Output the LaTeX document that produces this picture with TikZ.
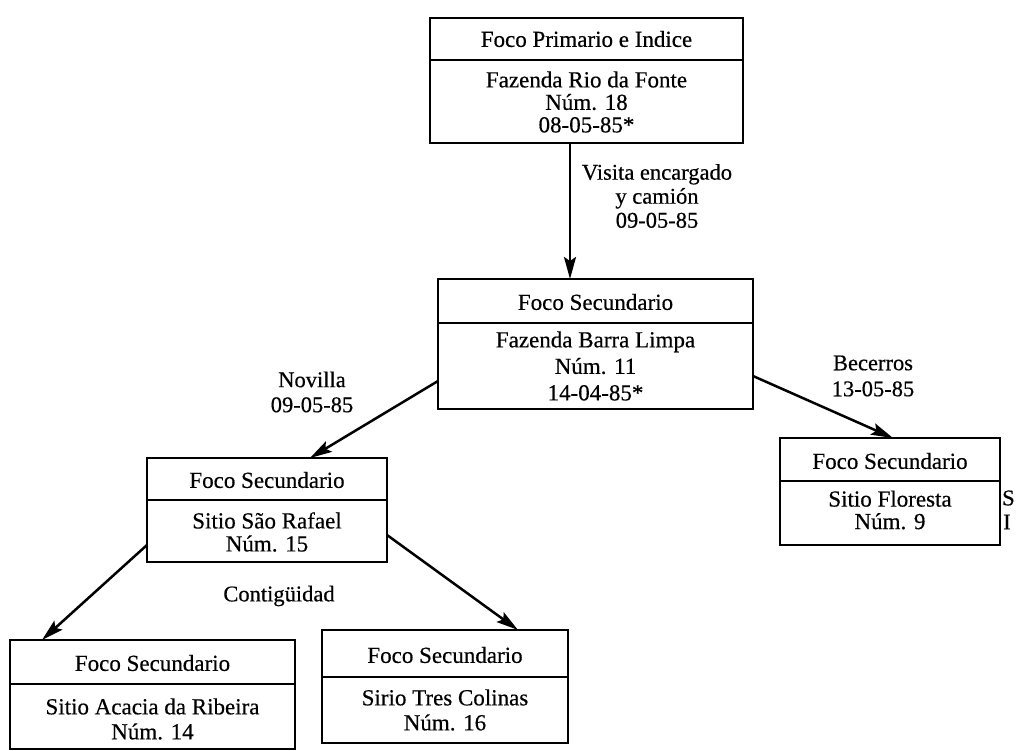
\documentclass[tikz,border=0pt]{standalone}
\usepackage{fontspec}
% Slightly heavier strokes for all lettering
\setmainfont{Liberation Serif}[FakeBold=0.45, BoldFont={Liberation Serif}]
\usetikzlibrary{arrows.meta}

\tikzset{
  box/.style={draw, line width=2.8pt, rectangle, inner sep=0pt, outer sep=0pt},
  rule/.style={line width=2.4pt},
  ttl/.style={inner sep=0pt, font=\fontsize{23}{24}\selectfont\bfseries},
  body/.style={inner sep=0pt, align=center, font=\fontsize{23}{#1}\selectfont\bfseries},
  body/.default=24.5,
  lbl/.style={inner sep=0pt, align=center, font=\fontsize{22.5}{#1}\selectfont\bfseries},
  lbl/.default=24.5,
  link/.style={line width=2.5pt, -{Stealth[length=22pt,width=12pt,inset=4pt]}}
}

\begin{document}
\begin{tikzpicture}[x=1pt,y=-1pt]
\useasboundingbox (0,0) rectangle (1027,751);

% Primary focus
\node[box, minimum width=313pt, minimum height=125pt] (A) at (586.5,80.5) {};
\draw[rule] (A.west |- 0,60) -- (A.east |- 0,60);
\node[ttl] (At) at (586.5,39) {Foco Primario e Indice};
\node[body=22.5] (Ab) at (586.5,102) {Fazenda Rio da Fonte\\Núm. 18\\08-05-85*};

% Secondary focus: Barra Limpa
\node[box, minimum width=315pt, minimum height=130pt] (B) at (595.5,344) {};
\draw[rule] (B.west |- 0,323) -- (B.east |- 0,323);
\node[ttl] (Bt) at (595.5,302) {Foco Secundario};
\node[body=26.5] (Bb) at (595.5,366) {Fazenda Barra Limpa\\Núm. 11\\14-04-85*};

% Secondary focus: São Rafael
\node[box, minimum width=240pt, minimum height=104pt] (C) at (267,510) {};
\draw[rule] (C.west |- 0,500) -- (C.east |- 0,500);
\node[ttl] (Ct) at (267,480) {Foco Secundario};
\node[body=23] (Cb) at (267,532) {Sitio São Rafael\\Núm. 15};

% Secondary focus: Floresta
\node[box, minimum width=220pt, minimum height=107pt] (D) at (890,491.5) {};
\draw[rule] (D.west |- 0,481) -- (D.east |- 0,481);
\node[ttl] (Dt) at (890,461) {Foco Secundario};
\node[body=22.5] (Db) at (890,510) {Sitio Floresta\\Núm. 9};

% Secondary focus: Acacia da Ribeira
\node[box, minimum width=285pt, minimum height=109pt] (E) at (152.5,694.5) {};
\draw[rule] (E.west |- 0,684) -- (E.east |- 0,684);
\node[ttl] (Et) at (152.5,663) {Foco Secundario};
\node[body=25] (Eb) at (152.5,719) {Sitio Acacia da Ribeira\\Núm. 14};

% Secondary focus: Tres Colinas
\node[box, minimum width=246pt, minimum height=113pt] (F) at (445,686.5) {};
\draw[rule] (F.west |- 0,677) -- (F.east |- 0,677);
\node[ttl] (Ft) at (445,655) {Foco Secundario};
\node[body=25] (Fb) at (445,710) {Sirio Tres Colinas\\Núm. 16};

% Links between foci
\draw[link] (A.south -| 570,0) -- (B.north -| 570,0);
\draw[link] (B.west |- 0,381) -- (C.north -| 310,0);
\draw[link] (B.east |- 0,376) -- (D.north -| 893,0);
\draw[link] (C.west |- 0,545) -- (E.north -| 42,0);
\draw[link] (C.east |- 0,535) -- (F.north -| 518,0);

% Link labels
\node[lbl=24] (Lab) at (657,196) {Visita encargado\\y camión\\09-05-85};
\node[lbl=25] (Lbc) at (312,392) {Novilla\\09-05-85};
\node[lbl=26] (Lbd) at (873,376) {Becerros\\13-05-85};
\node[lbl] (Lce) at (279,596) {Contigüidad};

% Side notes running off the right edge
\node[inner sep=0pt, anchor=west, font=\fontsize{22.5}{24}\selectfont\bfseries] (Sa) at (1002,498) {S};
\node[inner sep=0pt, anchor=west, font=\fontsize{22.5}{24}\selectfont\bfseries] (Sb) at (1003,522) {I};
\end{tikzpicture}
\end{document}
